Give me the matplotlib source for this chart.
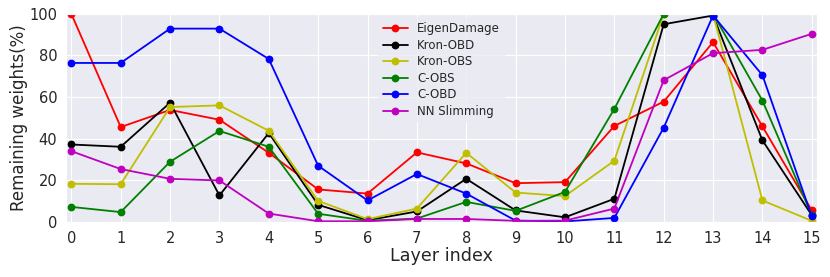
import numpy as np
import matplotlib
matplotlib.use("Agg")
import matplotlib.pyplot as plt
import seaborn as sns

sns.set_style("darkgrid")
plt.rcParams['font.family'] = ['DejaVu Sans']

layers = np.arange(16)

eigen_damage = [100, 45.6, 53.8, 49.1, 33.2, 15.6, 13.6, 33.4, 28.1, 18.6, 19.1, 46.1, 57.8, 86.4, 45.9, 5.5]
kron_obd = [37.2, 36.1, 57.3, 12.7, 42.7, 8.2, 0.8, 5.0, 20.7, 5.5, 2.2, 11.1, 95.0, 99.2, 39.2, 3.2]
kron_obs = [18.3, 18.1, 55.2, 56.0, 43.8, 10.1, 1.3, 6.4, 33.2, 14.1, 12.4, 29.4, 100, 100, 10.3, 0.5]
c_obs = [7.2, 4.7, 28.9, 43.7, 36.1, 3.9, 0.5, 1.6, 9.6, 5.3, 14.4, 54.3, 100, 100, 58.3, 3.2]
c_obd = [76.4, 76.4, 92.9, 92.9, 78.3, 27.0, 10.3, 23.0, 13.6, 0.6, 0.2, 1.9, 45.3, 99.2, 70.5, 2.7]
nn_slimming = [34.0, 25.4, 20.7, 19.9, 4.0, 0.3, 0.3, 1.4, 1.4, 0.5, 0.6, 6.4, 68.1, 81.1, 82.7, 90.4]

fig = plt.figure(figsize=(8.3, 2.77), dpi=100)
ax = fig.add_axes([0.08, 0.199, 0.904, 0.751])

ax.plot(layers, eigen_damage, "o-", color="r", lw=1.3, ms=4.6, label="EigenDamage")
ax.plot(layers, kron_obd, "o-", color="k", lw=1.3, ms=4.6, label="Kron-OBD")
ax.plot(layers, kron_obs, "o-", color="y", lw=1.3, ms=4.6, label="Kron-OBS")
ax.plot(layers, c_obs, "o-", color="g", lw=1.3, ms=4.6, label="C-OBS")
ax.plot(layers, c_obd, "o-", color="b", lw=1.3, ms=4.6, label="C-OBD")
ax.plot(layers, nn_slimming, "o-", color="m", lw=1.3, ms=4.6, label="NN Slimming")

ax.set_xlim(-0.1, 15.1)
ax.set_ylim(0, 100)
ax.set_xticks(layers)
ax.set_yticks([0, 20, 40, 60, 80, 100])
ax.tick_params(labelsize=10.5, colors="#262626", pad=3)
ax.set_xlabel("Layer index", fontsize=12.6, color="#262626", labelpad=1)
ax.set_ylabel("Remaining weights(%)", fontsize=12, color="#262626")
ax.yaxis.set_label_coords(-0.051, 0.5)

leg = ax.legend(loc="upper center", fontsize=8.5, frameon=True, facecolor="#EAEAF2",
                edgecolor="none", framealpha=0.8, labelspacing=0.3, borderaxespad=0.3,
                handlelength=2.1)
for t in leg.get_texts():
    t.set_color("#262626")

fig.savefig("out.png", dpi=100)
